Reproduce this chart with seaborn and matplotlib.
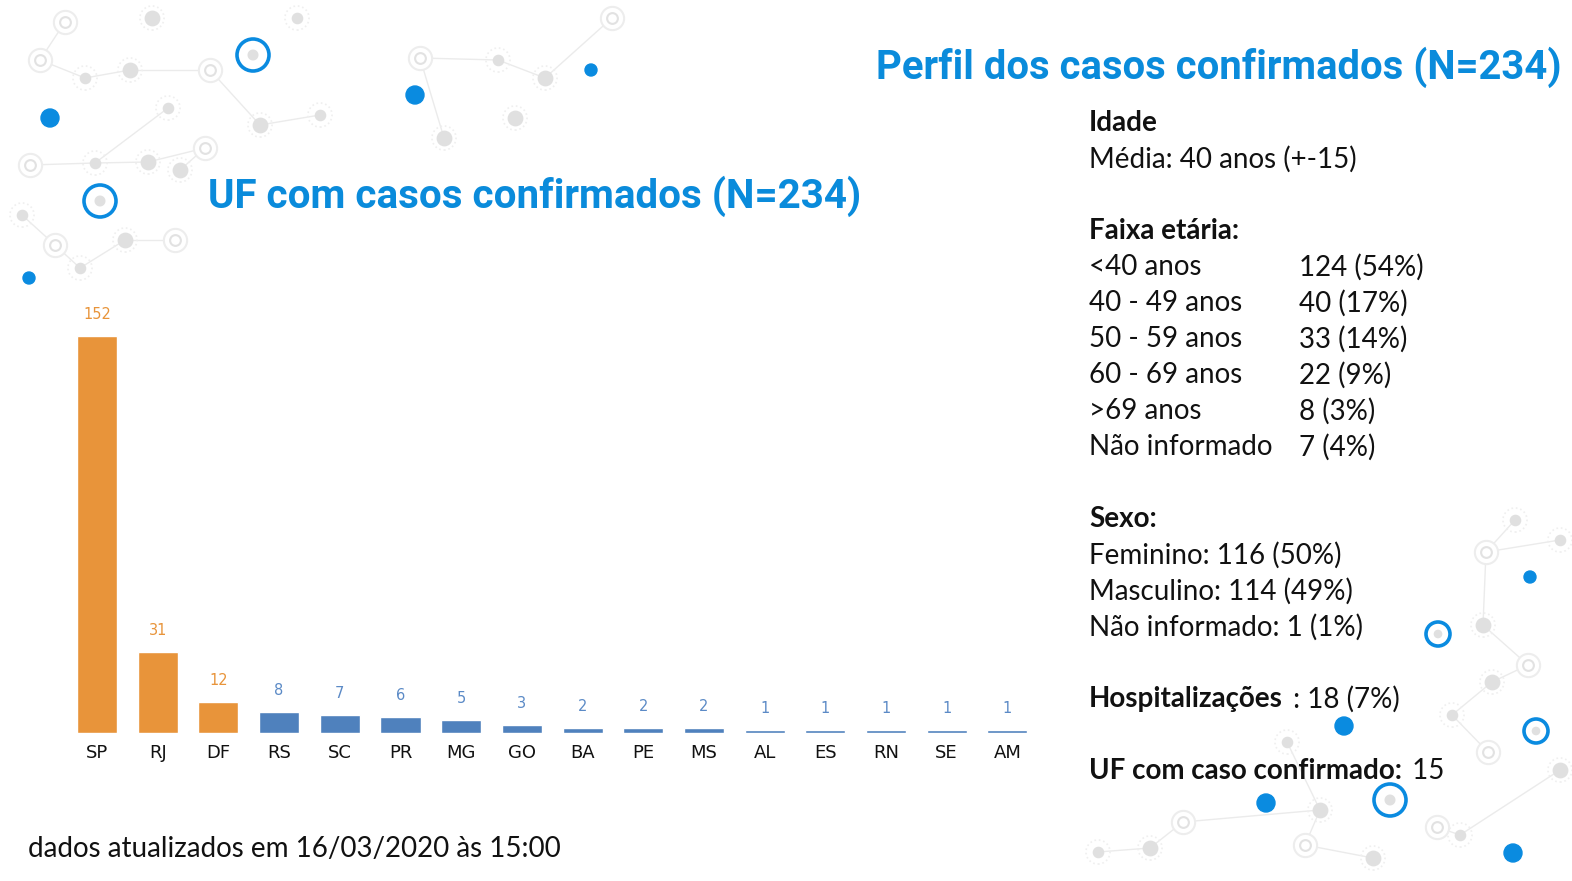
import matplotlib
matplotlib.use("Agg")
import matplotlib.pyplot as plt
import seaborn as sns
import pandas as pd

# bar chart data
ufs = ["SP", "RJ", "DF", "RS", "SC", "PR", "MG", "GO", "BA", "PE", "MS", "AL", "ES", "RN", "SE", "AM"]
casos = [152, 31, 12, 8, 7, 6, 5, 3, 2, 2, 2, 1, 1, 1, 1, 1]
destaque = ["top", "top", "top"] + ["resto"] * 13

# side panel text
faixas = ["<40 anos", "40 - 49 anos", "50 - 59 anos", "60 - 69 anos", ">69 anos", "Não informado"]
faixas_val = ["124 (54%)", "40 (17%)", "33 (14%)", "22 (9%)", "8 (3%)", "7 (4%)"]
sexo = ["Feminino: 116 (50%)", "Masculino: 114 (49%)", "Não informado: 1 (1%)"]

ORANGE = "#E8943A"
BLUE = "#4F81BD"
TITLE_BLUE = "#0A8BDB"
DOT_BLUE = "#0A8BE0"

sns.set_theme(style="white")
plt.rcParams["font.family"] = ["Lato", "DejaVu Sans"]

W, H = 1572, 881
fig = plt.figure(figsize=(W / 100, H / 100), dpi=100)

# background decoration (network motif)
bg = fig.add_axes([0, 0, 1, 1], zorder=0)
bg.set_xlim(0, W)
bg.set_ylim(H, 0)
bg.axis("off")
grey_nodes = [(65, 22), (152, 18), (297, 18), (40, 60), (85, 78), (130, 70), (210, 70), (260, 125),
              (320, 115), (420, 58), (498, 60), (545, 78), (612, 18), (444, 138), (168, 108),
              (30, 165), (95, 163), (148, 162), (205, 148), (180, 170), (22, 215), (55, 245),
              (80, 268), (125, 240), (175, 240), (515, 118), (1515, 520), (1486, 552), (1560, 540),
              (1483, 625), (1528, 665), (1492, 682), (1452, 715), (1488, 752), (1287, 742),
              (1320, 810), (1183, 822), (1150, 848), (1098, 852), (1437, 827), (1460, 835),
              (1560, 770), (1305, 845), (1373, 858)]
grey_edges = [(0, 3), (3, 4), (4, 5), (5, 6), (6, 7), (7, 8), (9, 10), (10, 11), (11, 12), (9, 13),
              (14, 16), (15, 16), (16, 17), (17, 18), (18, 19), (20, 21), (21, 22), (22, 23), (23, 24),
              (26, 27), (27, 28), (27, 29), (29, 30), (30, 31), (31, 32), (32, 33), (34, 35), (35, 36),
              (36, 37), (37, 38), (39, 40), (40, 41), (35, 42), (42, 43)]
for a, b in grey_edges:
    bg.plot([grey_nodes[a][0], grey_nodes[b][0]], [grey_nodes[a][1], grey_nodes[b][1]],
            color="#EBEBEB", lw=1.0, zorder=1)
for i, (x, y) in enumerate(grey_nodes):
    if i % 3 == 0:
        bg.scatter(x, y, s=280, facecolor="white", edgecolor="#EDEDED", lw=1.5, zorder=2)
        bg.scatter(x, y, s=60, facecolor="white", edgecolor="#E2E2E2", lw=1.5, zorder=3)
    else:
        bg.scatter(x, y, s=300, facecolor="none", edgecolor="#EFEFEF", lw=1.2, ls=":", zorder=2)
        bg.scatter(x, y, s=130 if i % 2 else 70, color="#E0E0E0", lw=0, zorder=2)
blue_dots = [(50, 118, 9), (415, 95, 9), (591, 70, 6), (29, 278, 6), (1530, 577, 6),
             (1344, 726, 9), (1266, 803, 9), (1513, 853, 9)]
for x, y, r in blue_dots:
    bg.add_patch(plt.Circle((x, y), r, color=DOT_BLUE, zorder=4))
blue_rings = [(253, 55, 16), (100, 201, 16), (1438, 634, 12), (1536, 731, 12), (1390, 800, 16)]
for x, y, r in blue_rings:
    bg.add_patch(plt.Circle((x, y), r, facecolor="white", edgecolor=DOT_BLUE, lw=2.6, zorder=4))
    bg.add_patch(plt.Circle((x, y), r * 0.3, color="#E0E0E0", zorder=5))

# bar chart
df = pd.DataFrame({"uf": ufs, "casos": casos, "grupo": destaque})
ax = fig.add_axes([66.7 / W, 0.168, 971 / W, 0.504], zorder=2)
ax.patch.set_alpha(0)
sns.barplot(data=df, x="uf", y="casos", hue="grupo", palette={"top": ORANGE, "resto": BLUE},
            width=0.66, legend=False, ax=ax, saturation=1)
ax.set_xlim(-0.5, len(ufs) - 0.5)
ax.set_ylim(0, 170)
ax.set_xlabel("")
ax.set_ylabel("")
ax.set_yticks([])
sns.despine(ax=ax, left=True, bottom=True)
ax.tick_params(axis="x", length=0, pad=8, labelsize=13, labelcolor="#111111")
for lbl in ax.get_xticklabels():
    lbl.set_fontfamily(["DejaVu Sans"])
for i, (v, g) in enumerate(zip(casos, destaque)):
    ax.annotate(str(v), (i, v), xytext=(0, 10), textcoords="offset points", ha="center", va="bottom",
                fontsize=10.5, color=ORANGE if g == "top" else "#5B8AC6", family=["DejaVu Sans"])

# titles
def fit_text(x, y, s, width_px, **kw):
    t = fig.text(x / W, 1 - y / H, s, **kw)
    fig.canvas.draw()
    w = t.get_window_extent().width
    t.set_fontsize(t.get_fontsize() * width_px / w)
    return t

fit_text(208, 196, "UF com casos confirmados (N=234)", 655, fontsize=26, color=TITLE_BLUE,
         fontweight="bold", family=["Roboto", "DejaVu Sans"], va="center", ha="left")
fit_text(876, 67, "Perfil dos casos confirmados (N=234)", 686, fontsize=26, color=TITLE_BLUE,
         fontweight="bold", family=["Roboto", "DejaVu Sans"], va="center", ha="left")

# side panel
FS = 20
X1, X2 = 1089, 1299
def line(y, s, x=X1, bold=False):
    return fig.text(x / W, 1 - (y + 2) / H, s, fontsize=FS, color="#111111", va="center", ha="left",
                    fontweight="bold" if bold else "normal")

def after(t, s):
    # regular text placed just after a bold label
    bg.annotate(s, xy=(1, 0.5), xycoords=t, xytext=(2, 0), textcoords="offset points",
                fontsize=FS, color="#111111", va="center", ha="left")

line(121, "Idade", bold=True)
line(157, "Média: 40 anos (+-15)")
line(229, "Faixa etária:", bold=True)
for k, (f, v) in enumerate(zip(faixas, faixas_val)):
    line(265 + 36 * k, f)
    line(265 + 36 * k, v, x=X2)
line(517, "Sexo:", bold=True)
for k, s in enumerate(sexo):
    line(553 + 36 * k, s)
after(line(697, "Hospitalizações", bold=True), " : 18 (7%)")
after(line(769, "UF com caso confirmado:", bold=True), " 15")

fig.text(28 / W, 1 - 849 / H, "dados atualizados em 16/03/2020 às 15:00", fontsize=FS,
         color="#111111", va="center", ha="left")

fig.savefig("out.png", dpi=100)
